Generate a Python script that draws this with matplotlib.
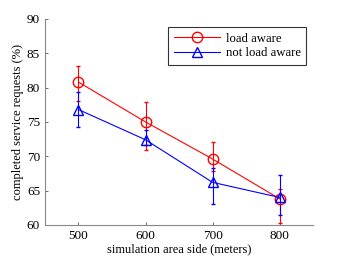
import matplotlib.pyplot as plt
from matplotlib.lines import Line2D

plt.rcParams['font.family'] = 'Liberation Serif'

# valores
area_side = [500, 600, 700, 800]
load_aware = [80.8, 75.0, 69.6, 63.8]
load_aware_lo = [2.7, 4.1, 1.7, 3.5]
load_aware_hi = [2.4, 2.9, 2.5, 1.4]
not_aware = [76.8, 72.4, 66.2, 64.0]
not_aware_lo = [2.5, 0.8, 3.2, 2.6]
not_aware_hi = [2.5, 1.4, 2.1, 3.2]

fig, ax = plt.subplots(figsize=(3.46, 2.6), dpi=100)
fig.subplots_adjust(left=0.13, right=0.905, top=0.927, bottom=0.135)

ax.errorbar(area_side, load_aware, yerr=[load_aware_lo, load_aware_hi], color='#ff0000',
            marker='o', markersize=7.5, markerfacecolor='none', linewidth=0.8,
            elinewidth=0.8, capsize=1.5)
ax.errorbar(area_side, not_aware, yerr=[not_aware_lo, not_aware_hi], color='#0000ff',
            marker='^', markersize=7.5, markerfacecolor='none', linewidth=0.8,
            elinewidth=0.8, capsize=1.5)

ax.set_xlim(450, 850)
ax.set_ylim(60, 90)
ax.set_xticks(area_side)
ax.set_yticks(range(60, 91, 5))
ax.tick_params(direction='in', labelsize=9.5, length=2.5, width=0.6, color='#555555')
for side in ['top', 'right']:
    ax.spines[side].set_visible(False)
for side in ['left', 'bottom']:
    ax.spines[side].set_color('#888888')
    ax.spines[side].set_linewidth(0.8)

ax.set_xlabel('simulation area side (meters)', fontsize=9, labelpad=1)
ax.set_ylabel('completed service requests (%)', fontsize=9, labelpad=2)

# legenda so com linha e marcador
handles = [
    Line2D([], [], color='#ff0000', marker='o', markersize=7.5, markerfacecolor='none', linewidth=0.8),
    Line2D([], [], color='#0000ff', marker='^', markersize=7.5, markerfacecolor='none', linewidth=0.8),
]
leg = ax.legend(handles, ['load aware', 'not load aware'], loc='upper right', fontsize=9.2,
                frameon=True, fancybox=False, handlelength=3.6, handletextpad=0.45,
                borderpad=0.45, labelspacing=0.2, borderaxespad=0,
                bbox_to_anchor=(0.975, 0.962))
leg.get_frame().set_edgecolor('black')
leg.get_frame().set_linewidth(0.8)

plt.savefig('out.png', dpi=100)
